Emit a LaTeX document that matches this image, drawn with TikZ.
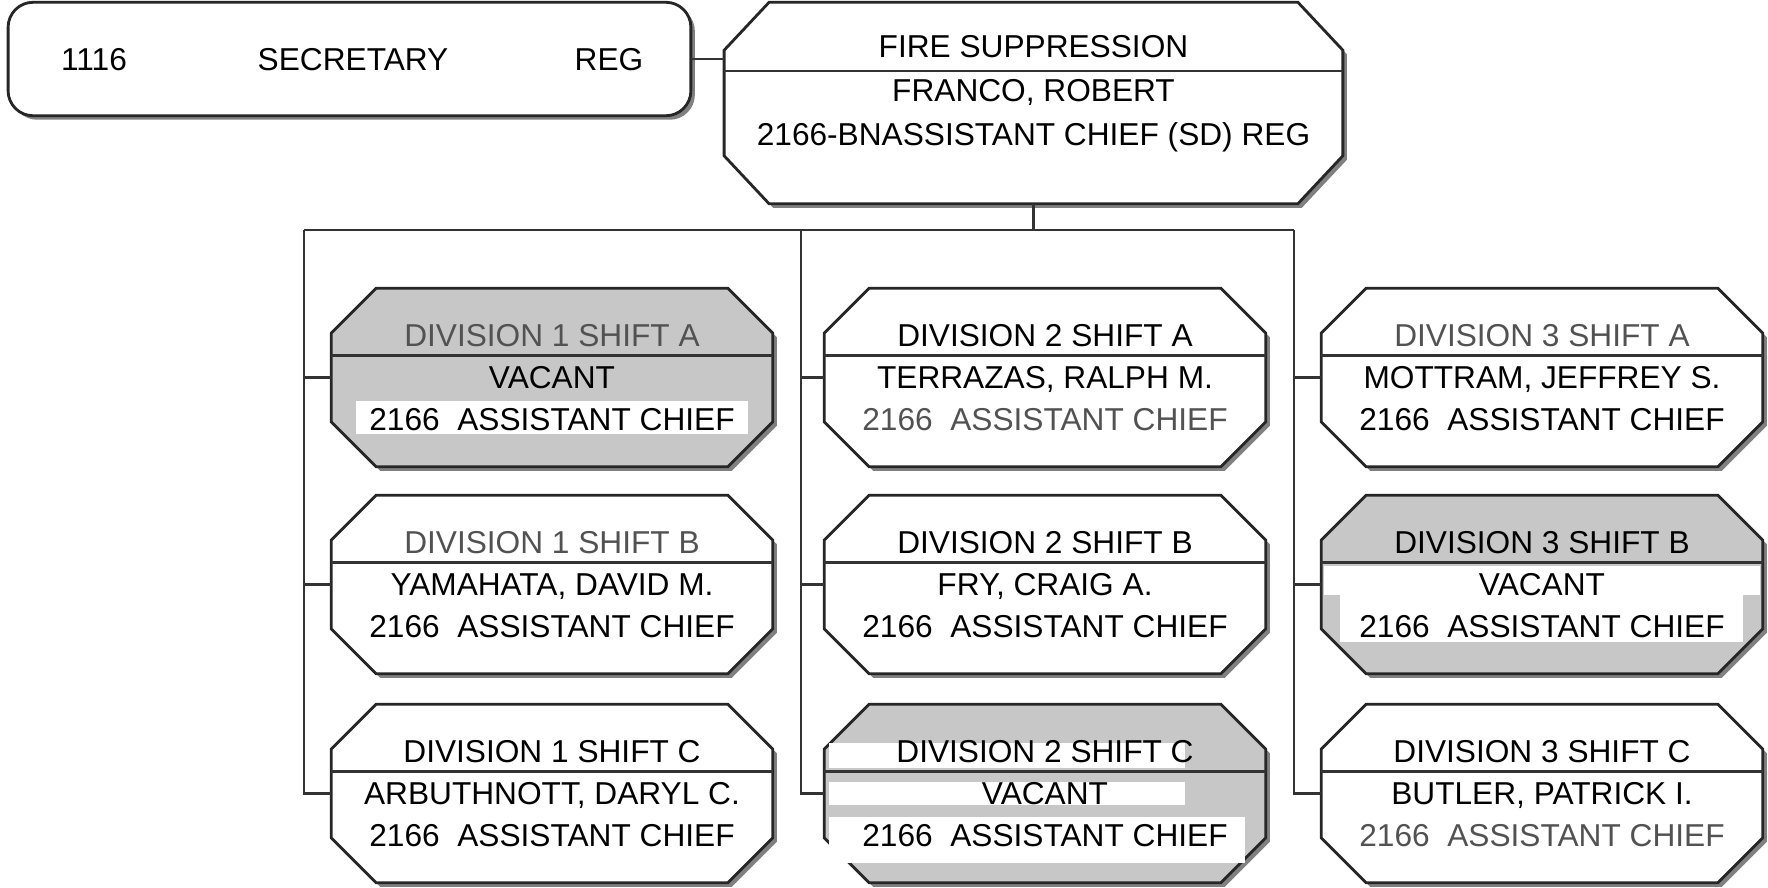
\documentclass[tikz,border=0pt]{standalone}
\usepackage{fontspec}
\setmainfont{Liberation Sans}
\usetikzlibrary{calc,backgrounds}
\definecolor{vacgray}{gray}{0.78}
\definecolor{dimtext}{gray}{0.32}
\newcommand{\acrank}{2166\ \ ASSISTANT CHIEF}
\begin{document}
\begin{tikzpicture}[x=0.01cm, y=-0.01cm,
  post/.style={minimum width=4.4cm, minimum height=1.77cm, inner sep=0pt, align=center,
    font=\fontsize{9}{11.9}\selectfont},
  lbl/.style={inner sep=0pt, align=center, font=\fontsize{9}{12.5}\selectfont},
  outline/.style={draw=black!85, line width=0.8pt},
  rule/.style={draw=black!80, line width=0.6pt},
  wire/.style={draw=black!80, line width=0.6pt},
  shadowed/.style={fill=black!50},
  patch/.style={fill=white},
  octo/.style n args={4}{insert path={
    ($(#1.north west)+(#2+#3,#2)$) -- ($(#1.north east)+(#2-#3,#2)$) --
    ($(#1.north east)+(#2,#2+#4)$) -- ($(#1.south east)+(#2,#2-#4)$) --
    ($(#1.south east)+(#2-#3,#2)$) -- ($(#1.south west)+(#2+#3,#2)$) --
    ($(#1.south west)+(#2,#2-#4)$) -- ($(#1.north west)+(#2,#2+#4)$) -- cycle}}
]
\useasboundingbox (0,0) rectangle (1768,887);

% top row
\node (sec) [minimum width=6.81cm, minimum height=1.12cm] at (349.5,59) {};
\node (secnum) [lbl] at (94,60) {1116};
\node (sectitle) [lbl] at (353,60) {SECRETARY};
\node (secreg) [lbl] at (609,60) {REG};

\node (fire) [minimum width=6.17cm, minimum height=2cm] at (1033.5,103) {};
\node (firetxt) [lbl] at (1033.5,94) {FIRE SUPPRESSION\\FRANCO, ROBERT\\2166-BNASSISTANT CHIEF (SD) REG};

% divisions
\node (d1a) [post] at (552,377.5) {\textcolor{dimtext}{DIVISION 1 SHIFT A}\\VACANT\\\acrank};
\node (d1b) [post] at (552,584.5) {\textcolor{dimtext}{DIVISION 1 SHIFT B}\\YAMAHATA, DAVID M.\\\acrank};
\node (d1c) [post] at (552,793.5) {DIVISION 1 SHIFT C\\ARBUTHNOTT, DARYL C.\\\acrank};
\node (d2a) [post] at (1045,377.5) {DIVISION 2 SHIFT A\\TERRAZAS, RALPH M.\\\textcolor{dimtext}{\acrank}};
\node (d2b) [post] at (1045,584.5) {DIVISION 2 SHIFT B\\FRY, CRAIG A.\\\acrank};
\node (d2c) [post] at (1045,793.5) {DIVISION 2 SHIFT C\\VACANT\\\acrank};
\node (d3a) [post] at (1542,377.5) {\textcolor{dimtext}{DIVISION 3 SHIFT A}\\MOTTRAM, JEFFREY S.\\\acrank};
\node (d3b) [post] at (1542,584.5) {DIVISION 3 SHIFT B\\VACANT\\\acrank};
\node (d3c) [post] at (1542,793.5) {DIVISION 3 SHIFT C\\BUTLER, PATRICK I.\\\textcolor{dimtext}{\acrank}};

\begin{scope}[on background layer]
  \fill[white] (0,0) rectangle (1768,887);
  \fill[shadowed, rounded corners=0.25cm] ($(sec.north west)+(4,4)$) rectangle ($(sec.south east)+(4,4)$);
  \draw[outline, fill=white, rounded corners=0.25cm] (sec.north west) rectangle (sec.south east);
  \fill[shadowed, octo={fire}{4}{45}{48}];
  \draw[outline, fill=white, octo={fire}{0}{45}{48}];
  \draw[rule] ($(fire.west)+(0,-32)$) -- ($(fire.east)+(0,-32)$);
  \foreach \b/\f in {d1a/vacgray, d1b/white, d1c/white, d2a/white, d2b/white,
                     d2c/vacgray, d3a/white, d3b/vacgray, d3c/white} {
    \fill[shadowed, octo={\b}{4}{45}{45}];
    \draw[outline, fill=\f, octo={\b}{0}{45}{45}];
    \draw[rule] ($(\b.west)+(0,-22)$) -- ($(\b.east)+(0,-22)$);
  }
  % white strips behind text
  \fill[patch] (356,401) rectangle (748,434);
  \fill[patch] (1324,566) rectangle (1760,595);
  \fill[patch] (1340,595) rectangle (1743,642);
  \fill[patch] (829,743) rectangle (1185,768);
  \fill[patch] (829,782) rectangle (1185,805);
  \fill[patch] (829,817) rectangle (1245,863);
\end{scope}

% connectors
\coordinate (bus1) at (304,230);
\coordinate (bus2) at (801,230);
\coordinate (bus3) at (1294,230);
\draw[wire] (sec.east) -- (sec.east -| fire.west);
\draw[wire] (fire.south) -- (fire.south |- bus2);
\draw[wire] (bus1) -- (bus3);
\foreach \col in {1,2,3} {
  \draw[wire] (bus\col) |- (d\col c.west);
  \draw[wire] (bus\col |- d\col a.west) -- (d\col a.west);
  \draw[wire] (bus\col |- d\col b.west) -- (d\col b.west);
}
\end{tikzpicture}
\end{document}
